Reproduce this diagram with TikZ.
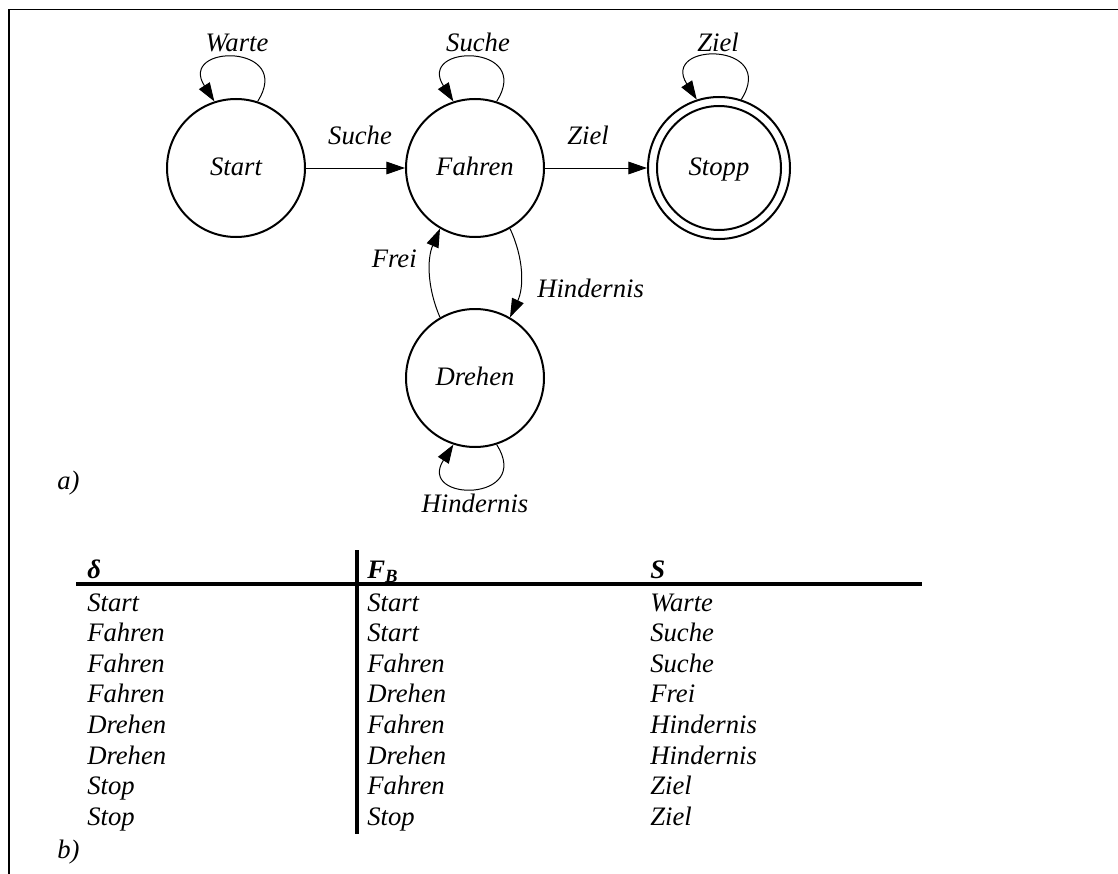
\documentclass[tikz,border=0pt]{standalone}
\usepackage{fontspec}
\setmainfont{Liberation Serif}
\usetikzlibrary{arrows.meta}

\begin{document}
\begin{tikzpicture}[
  x=0.75pt, y=-0.75pt,
  txt/.style={font=\fontsize{20}{24}\selectfont\itshape, inner sep=0pt},
  lbl/.style={txt, anchor=base},
  cell/.style={txt, anchor=base west},
  head/.style={font=\fontsize{20}{24}\selectfont\bfseries\itshape, inner sep=0pt, anchor=base west},
  state/.style={circle, draw, line width=1.5pt, minimum size=103.5pt, inner sep=0pt,
                text height=11pt, text depth=0pt,
                font=\fontsize{20}{24}\selectfont\itshape},
  edge/.style={line width=0.75pt, -{Triangle[length=14pt, width=9.5pt]}},
  rule/.style={line width=3.2pt},
  frame/.style={line width=1.4pt}
]
\useasboundingbox (0,0) rectangle (1118,874);

% frame: top and left edge
\draw[frame] (9,874) -- (9,9.5) -- (1118,9.5);

% ---------------- a) state diagram ----------------
\node[state] (start)  at (236,168) {Start};
\node[state] (fahren) at (475,168) {Fahren};
\node[state, minimum size=106.5pt] (stopp) at (719,168) {Stopp};
\node[state] (drehen) at (475,378) {Drehen};
\draw[line width=1.5pt] (stopp.center) circle[radius=46.5pt];

% transitions between states
\draw[edge] (start) -- (fahren);
\draw[edge] (fahren) -- (stopp);
\draw[edge] (fahren.-60) .. controls +(14,30) and +(14,-30) .. (drehen.60);
\draw[edge] (drehen.120) .. controls +(-13,-30) and +(-13,30) .. (fahren.-120);

% self loops
\draw[edge] (start.72)  .. controls +(37,-58) and +(-37,-58) .. (start.108);
\draw[edge] (fahren.72) .. controls +(37,-58) and +(-37,-58) .. (fahren.108);
\draw[edge] (stopp.72)  .. controls +(37,-58) and +(-37,-58) .. (stopp.108);
\draw[edge] (drehen.-72) .. controls +(37,58) and +(-37,58) .. (drehen.-108);

% transition labels
\node[lbl] (lWarte)  at (237,52)  {Warte};
\node[lbl] (lSucheL) at (478,52)  {Suche};
\node[lbl] (lZielL)  at (718,52)  {Ziel};
\node[lbl] (lSuche)  at (360,145) {Suche};
\node[lbl] (lZiel)   at (588,145) {Ziel};
\node[txt, anchor=base east] (lFrei) at (417,267) {Frei};
\node[txt, anchor=base west] (lHind) at (537,297) {Hindernis};
\node[lbl] (lHindL)  at (475,512) {Hindernis};

\node[txt, anchor=base west] (capA) at (57,489) {a)};

% ---------------- b) transition table ----------------
\draw[rule] (76,584) -- (922,584);
\draw[line width=3pt] (357,550) -- (357,834);

\node[head] (hDelta) at (87,578)  {δ};
\node[head] (hFB)    at (367,578) {F\textsubscript{B}};
\node[head] (hS)     at (650,578) {S};

\foreach \i/\a/\b/\c in {
  0/Start/Start/Warte,
  1/Fahren/Start/Suche,
  2/Fahren/Fahren/Suche,
  3/Fahren/Drehen/Frei,
  4/Drehen/Fahren/Hindernis,
  5/Drehen/Drehen/Hindernis,
  6/Stop/Fahren/Ziel,
  7/Stop/Stop/Ziel}{
  \node[cell] (r\i a) at (87, 611+30.6*\i)  {\a};
  \node[cell] (r\i b) at (367,611+30.6*\i) {\b};
  \node[cell] (r\i c) at (650,611+30.6*\i) {\c};
}

\node[txt, anchor=base west] (capB) at (57,858) {b)};
\end{tikzpicture}
\end{document}
